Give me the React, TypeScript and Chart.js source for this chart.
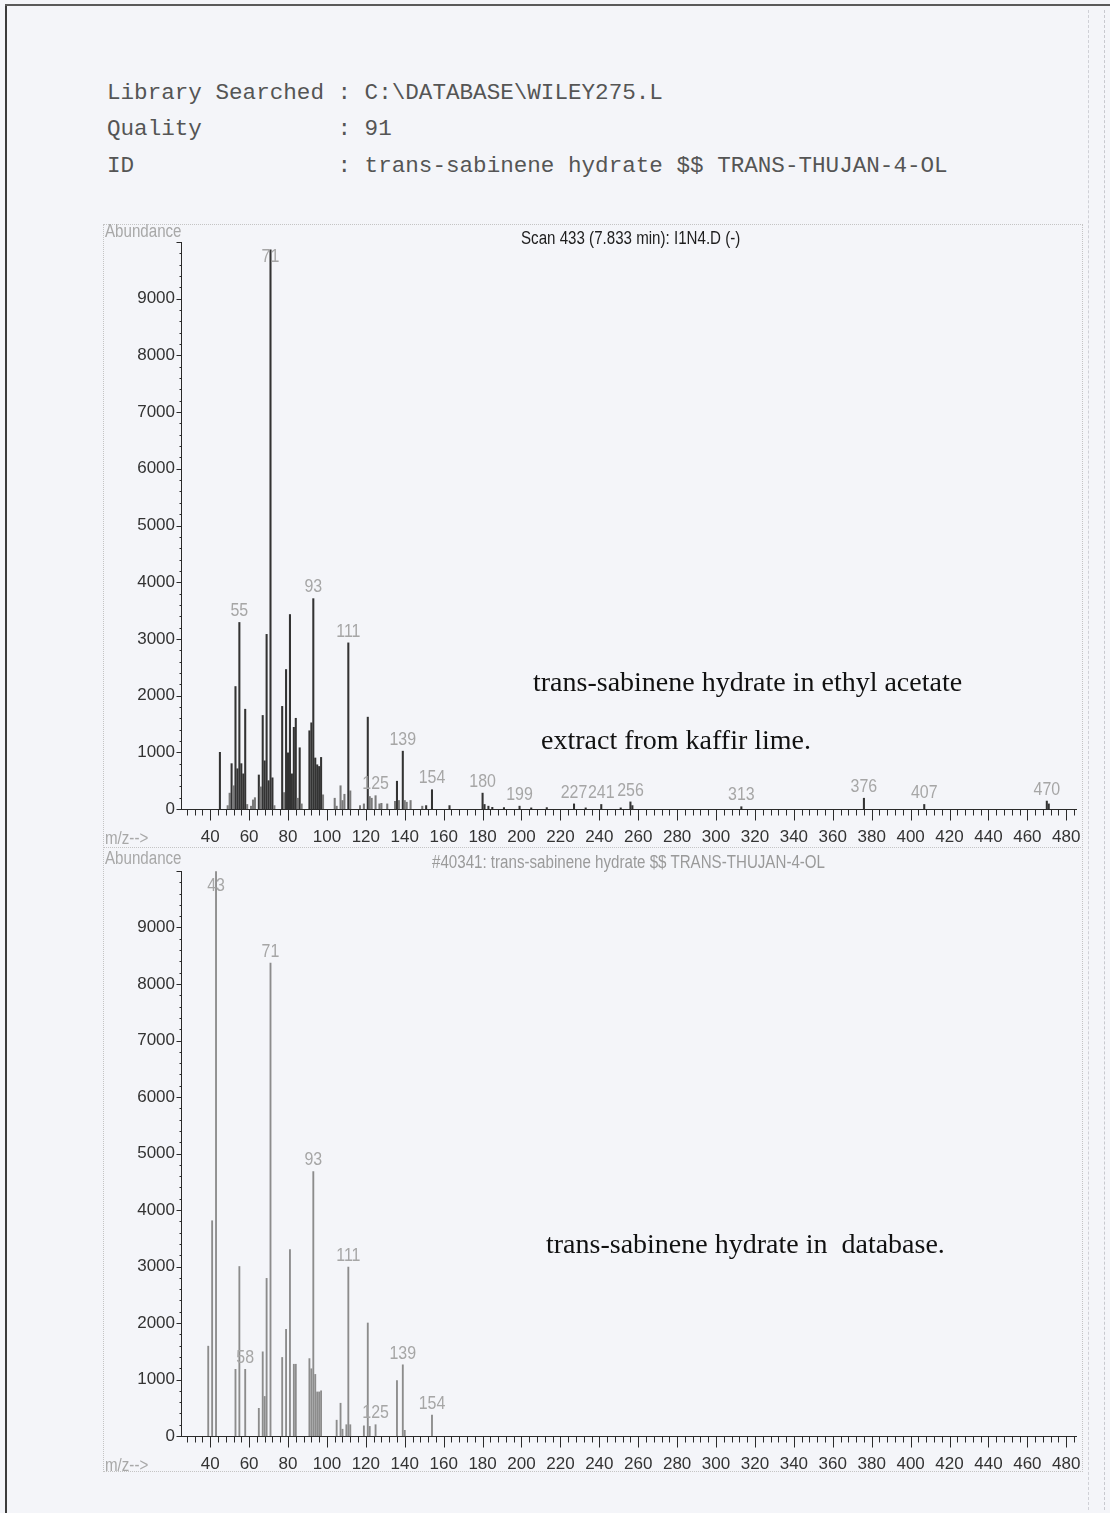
import React, { useEffect, useRef } from "react";
import { Chart, registerables } from "chart.js";

Chart.register(...registerables);

// ---------- Sample spectrum (Scan 433, 7.833 min) ----------
const sampleMz = [
  45, 49, 50, 51, 52, 53, 54, 55, 56, 57, 58, 59, 61, 62, 63, 65, 66, 67, 68, 69, 70, 71, 72, 73,
  77, 78, 79, 80, 81, 82, 83, 84, 85, 86, 87, 91, 92, 93, 94, 95, 96, 97, 98,
  104, 105, 107, 108, 109, 111, 112, 117, 119, 121, 122, 123, 125, 127, 128, 131,
  135, 136, 137, 139, 140, 141, 143, 149, 151, 154, 163, 180, 181, 183, 185, 191,
  199, 205, 213, 227, 233, 241, 251, 256, 257, 313, 376, 407, 470, 471,
];
const sampleAbundance = [
  1000, 60, 280, 800, 410, 2160, 710, 3290, 800, 620, 1760, 80, 50, 160, 200, 600, 390, 1650, 850, 3080, 500, 9860, 550, 60,
  1810, 290, 2460, 990, 3430, 620, 1440, 1600, 190, 1080, 90, 1380, 1520, 3710, 900, 780, 750, 910, 250,
  190, 50, 410, 150, 260, 2930, 320, 60, 90, 1620, 220, 190, 235, 90, 100, 90,
  135, 490, 150, 1020, 150, 120, 150, 50, 60, 340, 60, 280, 80, 50, 30, 25,
  50, 20, 25, 90, 20, 80, 20, 125, 60, 40, 190, 80, 140, 90,
];
const sampleLabeled = [71, 55, 93, 111, 139, 125, 154, 180, 199, 227, 241, 256, 313, 376, 407, 470];

// ---------- Library spectrum (#40341) ----------
const libraryMz = [
  39, 41, 43, 53, 55, 58, 65, 67, 68, 69, 71, 77, 79, 81, 83, 84, 91, 92, 93, 94, 95, 96, 97,
  105, 107, 108, 110, 111, 112, 119, 121, 122, 125, 136, 139, 140, 154,
];
const libraryAbundance = [
  1590, 3810, 9990, 1180, 3000, 1180, 490, 1490, 700, 2790, 8370, 1390, 1890, 3300, 1270, 1270, 1370, 1190, 4680, 1090, 780, 780, 800,
  280, 580, 120, 200, 2990, 200, 180, 2000, 170, 200, 980, 1260, 100, 370,
];
const libraryLabeled = [43, 71, 93, 111, 58, 139, 125, 154];

const xTickValues = [40, 60, 80, 100, 120, 140, 160, 180, 200, 220, 240, 260, 280, 300, 320, 340, 360, 380, 400, 420, 440, 460, 480];
const yTickValues = [0, 1000, 2000, 3000, 4000, 5000, 6000, 7000, 8000, 9000];

const X_MIN = 25;
const X_MAX = 485;
const Y_MAX = 10000;

const NARROW = '"Liberation Sans Narrow", "Arial Narrow", "Liberation Sans", Arial, sans-serif';
const SQUEEZE = 0.84;

const spectrumPlugin = {
  id: "spectrum",
  afterDatasetsDraw(chart: any, _args: any, opts: any) {
    const { ctx, chartArea } = chart;
    const x = chart.scales.x;
    const y = chart.scales.y;
    ctx.save();
    ctx.strokeStyle = "#2a2a2a";
    ctx.lineWidth = 1;
    const y0 = Math.round(y.getPixelForValue(0)) + 0.5;
    ctx.beginPath();
    for (let v = 28; v <= 484; v += 4) {
      const px = Math.round(x.getPixelForValue(v)) + 0.5;
      const len = v % 20 === 0 ? 11 : 6;
      ctx.moveTo(px, y0);
      ctx.lineTo(px, y0 + len);
    }
    const xl = Math.round(x.left) + 0.5;
    for (let v = 0; v <= Y_MAX; v += 200) {
      const py = Math.round(y.getPixelForValue(v)) + 0.5;
      const len = v % 1000 === 0 ? 5 : 2;
      ctx.moveTo(xl - len, py);
      ctx.lineTo(xl, py);
    }
    ctx.stroke();

    const data = chart.data.datasets[0].data as { x: number; y: number }[];
    ctx.font = `19px ${NARROW}`;
    ctx.fillStyle = "#a6a6a6";
    ctx.textAlign = "center";
    ctx.textBaseline = "bottom";
    (opts.labels as number[]).forEach((m) => {
      const pt = data.find((d) => d.x === m);
      if (!pt) return;
      const px = x.getPixelForValue(m);
      let py = y.getPixelForValue(pt.y) - 2;
      py = Math.max(py, chartArea.top + 24);
      ctx.save();
      ctx.translate(px, py);
      ctx.scale(SQUEEZE, 1);
      ctx.fillText(String(m), 0, 0);
      ctx.restore();
    });
    ctx.restore();
  },
};

function SpectrumChart(props: {
  mz: number[];
  abundance: number[];
  labeled: number[];
  colors: string[];
  barWidth: number;
  width: number;
  height: number;
  padTop: number;
  xAxisHeight: number;
}) {
  const ref = useRef<HTMLCanvasElement | null>(null);
  useEffect(() => {
    if (!ref.current) return;
    const points = props.mz.map((m, i) => ({ x: m, y: props.abundance[i] }));
    const chart = new Chart(ref.current, {
      type: "bar",
      data: {
        datasets: [
          {
            data: points as any,
            backgroundColor: props.colors,
            borderWidth: 0,
            barThickness: props.barWidth,
            grouped: false,
          } as any,
        ],
      },
      options: {
        responsive: false,
        animation: false,
        events: [],
        layout: { padding: { top: props.padTop, right: 7, left: 0, bottom: 0 } },
        plugins: {
          legend: { display: false },
          tooltip: { enabled: false },
          title: { display: false },
          spectrum: { labels: props.labeled },
        } as any,
        scales: {
          x: {
            type: "linear",
            min: X_MIN,
            max: X_MAX,
            offset: false,
            grid: { display: false, drawTicks: false },
            border: { display: true, color: "#2a2a2a", width: 1 },
            ticks: {
              padding: 18,
              color: "#333",
              font: { family: NARROW, size: 17 },
              maxRotation: 0,
              autoSkip: false,
              callback: (v: any) => String(v),
            },
            afterBuildTicks: (s: any) => {
              s.ticks = xTickValues.map((v) => ({ value: v }));
            },
            afterFit: (s: any) => {
              s.height = props.xAxisHeight;
              s.paddingLeft = 0;
              s.paddingRight = 0;
            },
          },
          y: {
            type: "linear",
            min: 0,
            max: Y_MAX,
            grid: { display: false, drawTicks: false },
            border: { display: true, color: "#2a2a2a", width: 1 },
            ticks: {
              padding: 6,
              color: "#333",
              font: { family: NARROW, size: 17 },
              autoSkip: false,
              callback: (v: any) => String(v),
            },
            afterBuildTicks: (s: any) => {
              s.ticks = yTickValues.map((v) => ({ value: v }));
            },
            afterFit: (s: any) => {
              s.width = 78;
              s.paddingTop = 0;
              s.paddingBottom = 0;
            },
          },
        },
      } as any,
      plugins: [spectrumPlugin],
    });
    return () => chart.destroy();
  }, []);
  return <canvas ref={ref} width={props.width} height={props.height} style={{ display: "block" }} />;
}

const abs = (left: number, top: number, extra: React.CSSProperties = {}): React.CSSProperties => ({
  position: "absolute",
  left,
  top,
  margin: 0,
  whiteSpace: "pre",
  ...extra,
});

export default function App() {
  const sampleColors = sampleAbundance.map((v, i) =>
    v >= 450 || sampleMz[i] > 150 ? "#333333" : "#7a7a7a"
  );
  const libraryColors = libraryAbundance.map(() => "#8c8c8c");
  const mono: React.CSSProperties = {
    fontFamily: '"Courier New", "Liberation Mono", monospace',
    fontSize: 22.6,
    color: "#555",
    lineHeight: "23px",
  };
  const serif: React.CSSProperties = {
    fontFamily: '"Liberation Serif", "Times New Roman", serif',
    fontSize: 28,
    color: "#111",
    lineHeight: "30px",
  };
  const narrowGrey: React.CSSProperties = {
    fontFamily: NARROW,
    fontSize: 18,
    color: "#a8a8a8",
    lineHeight: "20px",
    transform: `scaleX(${SQUEEZE})`,
    transformOrigin: "left center",
  };
  return (
    <div
      style={{
        position: "absolute",
        left: 0,
        top: 0,
        width: 1110,
        height: 1513,
        background: "#f4f5f9",
        overflow: "hidden",
      }}
    >
      {/* scan edges */}
      <div style={{ position: "absolute", left: 5, top: 4, width: 2, height: 1509, background: "#3c3c3c" }} />
      <div style={{ position: "absolute", left: 5, top: 4, width: 1105, height: 2, background: "#5a5a5a" }} />
      <div style={{ position: "absolute", left: 1088, top: 10, width: 0, height: 1500, borderLeft: "1px dashed #cfd0d6" }} />
      <div style={{ position: "absolute", left: 1104, top: 10, width: 0, height: 1500, borderLeft: "1px dashed #c8c9cf" }} />

      {/* header */}
      <div style={abs(107, 82, mono)}>{"Library Searched : C:\\DATABASE\\WILEY275.L"}</div>
      <div style={abs(107, 118, mono)}>{"Quality          : 91"}</div>
      <div style={abs(107, 155, mono)}>{"ID               : trans-sabinene hydrate $$ TRANS-THUJAN-4-OL"}</div>

      {/* panel frame */}
      <div style={{ position: "absolute", left: 103, top: 224, width: 980, height: 1248, border: "1px dotted #c4c4c4", boxSizing: "border-box" }} />
      <div style={{ position: "absolute", left: 103, top: 847, width: 980, height: 0, borderTop: "1px dotted #c4c4c4" }} />

      {/* top chart */}
      <div style={{ position: "absolute", left: 103, top: 222 }}>
        <SpectrumChart
          mz={sampleMz}
          abundance={sampleAbundance}
          labeled={sampleLabeled}
          colors={sampleColors}
          barWidth={1.4}
          width={980}
          height={626}
          padTop={20}
          xAxisHeight={39}
        />
      </div>
      {/* bottom chart */}
      <div style={{ position: "absolute", left: 103, top: 850 }}>
        <SpectrumChart
          mz={libraryMz}
          abundance={libraryAbundance}
          labeled={libraryLabeled}
          colors={libraryColors}
          barWidth={1.2}
          width={980}
          height={626}
          padTop={21}
          xAxisHeight={40}
        />
      </div>

      {/* panel texts */}
      <div style={abs(105, 221, narrowGrey)}>Abundance</div>
      <div style={abs(105, 828, narrowGrey)}>{"m/z-->"}</div>
      <div style={abs(105, 848, narrowGrey)}>Abundance</div>
      <div style={abs(105, 1455, narrowGrey)}>{"m/z-->"}</div>
      <div style={abs(521, 228, { ...narrowGrey, color: "#1e1e1e" })}>
        {"Scan 433 (7.833 min): I1N4.D (-)"}
      </div>
      <div style={abs(432, 852, { ...narrowGrey, color: "#9a9a9a" })}>
        {"#40341: trans-sabinene hydrate $$ TRANS-THUJAN-4-OL"}
      </div>

      {/* annotations */}
      <div style={abs(533, 667, serif)}>trans-sabinene hydrate in ethyl acetate</div>
      <div style={abs(541, 725, serif)}>extract from kaffir lime.</div>
      <div style={abs(546, 1229, serif)}>{"trans-sabinene hydrate in  database."}</div>
    </div>
  );
}
